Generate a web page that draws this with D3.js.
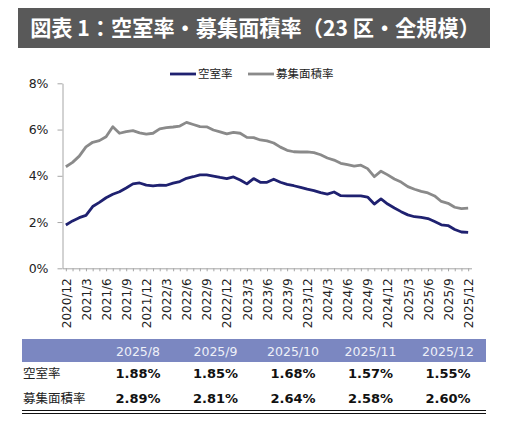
<!DOCTYPE html>
<html>
<head>
<meta charset="utf-8">
<script src="https://cdn.jsdelivr.net/npm/d3@7"></script>
<style>
  body { margin: 0; background: #fff; }
  svg { display: block; }
  .jp { font-family: "Noto Sans CJK JP", "Noto Sans", sans-serif; }
  .num { font-family: "DejaVu Sans", Verdana, sans-serif; }
</style>
</head>
<body>
<div class="container"></div>
<script>
// monthly data, 2020/12 .. 2025/12 (%)
var months = [];
for (let y = 2020; y <= 2025; y++) {
    for (let m = 1; m <= 12; m++) {
        if (y == 2020 && m < 12) continue;
        months.push(y + "/" + m);
    }
}

var vacancy = [
    1.87, 2.05, 2.19, 2.29, 2.67, 2.85, 3.05, 3.20, 3.31, 3.47,
    3.65, 3.69, 3.60, 3.56, 3.60, 3.59, 3.68, 3.75, 3.89, 3.96,
    4.04, 4.04, 3.99, 3.93, 3.88, 3.95, 3.82, 3.65, 3.88, 3.72,
    3.72, 3.85, 3.72, 3.63, 3.57, 3.50, 3.42, 3.36, 3.27, 3.21,
    3.30, 3.14, 3.13, 3.13, 3.13, 3.08, 2.78, 3.00, 2.78, 2.61,
    2.45, 2.31, 2.23, 2.20, 2.15, 2.02, 1.88, 1.85, 1.68, 1.57, 1.55
];

var offered = [
    4.39, 4.58, 4.85, 5.25, 5.45, 5.52, 5.69, 6.12, 5.84, 5.91,
    5.95, 5.86, 5.80, 5.84, 6.03, 6.08, 6.11, 6.15, 6.31, 6.22,
    6.13, 6.12, 5.98, 5.90, 5.81, 5.88, 5.84, 5.66, 5.65, 5.55,
    5.51, 5.42, 5.24, 5.10, 5.04, 5.03, 5.03, 5.00, 4.91, 4.77,
    4.68, 4.54, 4.48, 4.42, 4.46, 4.31, 3.96, 4.20, 4.04, 3.86,
    3.73, 3.53, 3.42, 3.33, 3.26, 3.13, 2.89, 2.81, 2.64, 2.58, 2.60
];

var yTicks = [0, 2, 4, 6, 8];

// table below the chart
var tableMonths = ["2025/8", "2025/9", "2025/10", "2025/11", "2025/12"];
var tableVacancy = ["1.88%", "1.85%", "1.68%", "1.57%", "1.55%"];
var tableOffered = ["2.89%", "2.81%", "2.64%", "2.58%", "2.60%"];

var seriesNames = ["空室率", "募集面積率"];

const width = 510, height = 440;
const navy = "#1f2170";
const gray = "#8a8a8a";

try {
    draw();
} catch (e) {
    console.log(e);
}

function draw() {
    let svg = d3.select(".container").append("svg")
        .attr("width", width).attr("height", height);

    // title bar
    svg.append("rect").attr("x", 18).attr("y", 8).attr("width", 472).attr("height", 40).attr("fill", "#595959");
    svg.append("text").attr("class", "jp")
        .attr("x", 255).attr("y", 35.5).attr("text-anchor", "middle")
        .attr("font-size", "21.2px").attr("font-weight", "bold").attr("fill", "#fff")
        .text("図表 1：空室率・募集面積率（23 区・全規模）");

    // scales
    let x = d3.scalePoint().domain(months).range([62.5, 471.5]).padding(0.5);
    let y = d3.scaleLinear().domain([0, 8]).range([268.3, 83.3]);

    // y axis
    let yAxis = svg.append("g").attr("transform", "translate(62.5,0)")
        .call(d3.axisLeft(y).tickValues(yTicks).tickFormat(d => d + "%").tickSize(5).tickSizeOuter(0));
    yAxis.select(".domain").attr("stroke", "#a6a6a6");
    yAxis.selectAll(".tick line").attr("stroke", "#a6a6a6");
    yAxis.selectAll("text").attr("class", "num").attr("font-size", "12.5px").attr("fill", "#222").attr("x", -14);

    // x axis
    let xAxis = svg.append("g").attr("transform", "translate(0,268.3)")
        .call(d3.axisBottom(x).tickSize(3).tickSizeOuter(0)
            .tickFormat((d, i) => i % 3 == 0 ? d : ""));
    xAxis.select(".domain").attr("stroke", "#a6a6a6");
    xAxis.selectAll(".tick line").attr("stroke", "#a6a6a6");
    xAxis.selectAll("text").attr("class", "num").attr("font-size", "12px").attr("fill", "#222")
        .attr("transform", "rotate(-90)")
        .attr("text-anchor", "end").attr("x", -10).attr("y", 0).attr("dy", "0.35em");

    // lines
    let line = d3.line().x((d, i) => x(months[i])).y(d => y(d));
    svg.append("path").datum(offered).attr("d", line)
        .attr("fill", "none").attr("stroke", gray).attr("stroke-width", 2.8).attr("stroke-linejoin", "round");
    svg.append("path").datum(vacancy).attr("d", line)
        .attr("fill", "none").attr("stroke", navy).attr("stroke-width", 2.8).attr("stroke-linejoin", "round");

    // legend
    let legend = [{ name: seriesNames[0], color: navy, x: 170 }, { name: seriesNames[1], color: gray, x: 248 }];
    legend.forEach(l => {
        svg.append("line").attr("x1", l.x).attr("x2", l.x + 26).attr("y1", 74).attr("y2", 74)
            .attr("stroke", l.color).attr("stroke-width", 2.8);
        svg.append("text").attr("class", "jp").attr("x", l.x + 28).attr("y", 78)
            .attr("font-size", "11.5px").attr("fill", "#222").text(l.name);
    });

    drawTable(svg);
}

function drawTable(svg) {
    let col = d3.scalePoint().domain(tableMonths).range([138, 448]);

    svg.append("rect").attr("x", 22).attr("y", 339).attr("width", 464).attr("height", 23).attr("fill", "#7b87c1");
    svg.append("g").selectAll("text").data(tableMonths).enter().append("text")
        .attr("class", "num").attr("x", d => col(d)).attr("y", 355.5).attr("text-anchor", "middle")
        .attr("font-size", "12.5px").attr("fill", "#eef0f8").text(d => d);

    let rows = [
        { label: seriesNames[0], values: tableVacancy, y: 378 },
        { label: seriesNames[1], values: tableOffered, y: 403 }
    ];
    rows.forEach(r => {
        svg.append("text").attr("class", "jp").attr("x", 23).attr("y", r.y)
            .attr("font-size", "12.5px").attr("fill", "#222").text(r.label);
        svg.append("g").selectAll("text").data(r.values).enter().append("text")
            .attr("class", "num").attr("x", (d, i) => col(tableMonths[i])).attr("y", r.y)
            .attr("text-anchor", "middle").attr("font-size", "13px").attr("font-weight", "bold")
            .attr("fill", "#111").text(d => d);
    });

    // double rule at the bottom
    [410.5, 413.5].forEach(yy => {
        svg.append("line").attr("x1", 22).attr("x2", 486).attr("y1", yy).attr("y2", yy)
            .attr("stroke", "#111").attr("stroke-width", 1.2);
    });
}
</script>
</body>
</html>
